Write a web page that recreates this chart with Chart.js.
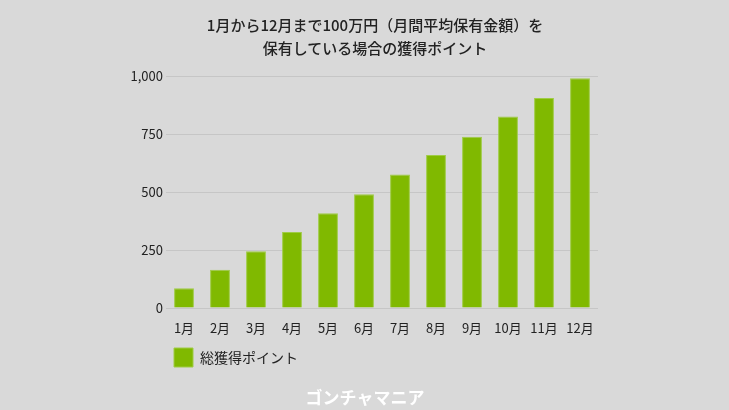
<!DOCTYPE html>
<html>
<head>
<meta charset="utf-8">
<script src="https://cdn.jsdelivr.net/npm/chart.js@4"></script>
<style>
  html, body { margin: 0; padding: 0; background: #d9d9d9; }
  #wrap { position: relative; width: 729px; height: 410px; background: #d9d9d9; overflow: hidden; }
  #chart { position: absolute; left: 0; top: 0; }
  .title { position: absolute; left: 175px; width: 400px; text-align: center; font-family: "Noto Sans CJK JP", sans-serif; font-size: 15px; font-weight: 500; color: #222; line-height: 23px; }
  .mark { position: absolute; left: 265px; width: 200px; top: 384px; text-align: center; font-family: "Noto Sans CJK JP", sans-serif; font-size: 17px; font-weight: 700; color: #ffffff; }
</style>
</head>
<body>
<div id="wrap">
  <canvas id="chart" width="729" height="410"></canvas>
  <div class="title" style="top:13px;">1月から12月まで100万円（月間平均保有金額）を<br>保有している場合の獲得ポイント</div>
  <div class="mark">ゴンチャマニア</div>
</div>
<script>
const categories = ["1月","2月","3月","4月","5月","6月","7月","8月","9月","10月","11月","12月"];
const seriesName = "総獲得ポイント";
const points = [85, 165, 245, 328, 408, 490, 575, 659, 738, 825, 905, 990];
const yTicks = [0, 250, 500, 750, 1000];

const FONT = '"Noto Sans CJK JP", sans-serif';

new Chart(document.getElementById('chart'), {
  type: 'bar',
  data: {
    labels: categories,
    datasets: [{
      label: seriesName,
      data: points,
      backgroundColor: '#80b900',
      borderColor: '#9fcc45',
      borderWidth: 1,
      barPercentage: 0.8,
      categoryPercentage: 0.69
    }]
  },
  options: {
    responsive: false,
    animation: false,
    layout: { padding: { left: 0, right: 131, top: 76, bottom: 33 } },
    plugins: {
      legend: {
        display: true,
        position: 'bottom',
        align: 'start',
        fullSize: false,
        labels: {
          boxWidth: 19,
          boxHeight: 19,
          padding: 8,
          color: '#222',
          font: { family: FONT, size: 14 }
        }
      },
      title: { display: false },
      tooltip: { enabled: false }
    },
    scales: {
      x: {
        grid: { display: false },
        border: { display: false },
        ticks: { color: '#222', font: { family: FONT, size: 13 }, padding: 4, maxRotation: 0 },
        afterFit: (s) => { s.height = 32; }
      },
      y: {
        min: 0,
        max: 1000,
        afterBuildTicks: (s) => { s.ticks = yTicks.map(v => ({ value: v })); },
        grid: { color: '#c6c6c6', lineWidth: 1, drawTicks: false },
        border: { display: false },
        ticks: {
          color: '#222',
          font: { family: FONT, size: 13 },
          padding: 3,
          callback: (v) => v.toLocaleString('en-US')
        },
        afterFit: (s) => { s.width = 166; }
      }
    }
  }
});
</script>
</body>
</html>
